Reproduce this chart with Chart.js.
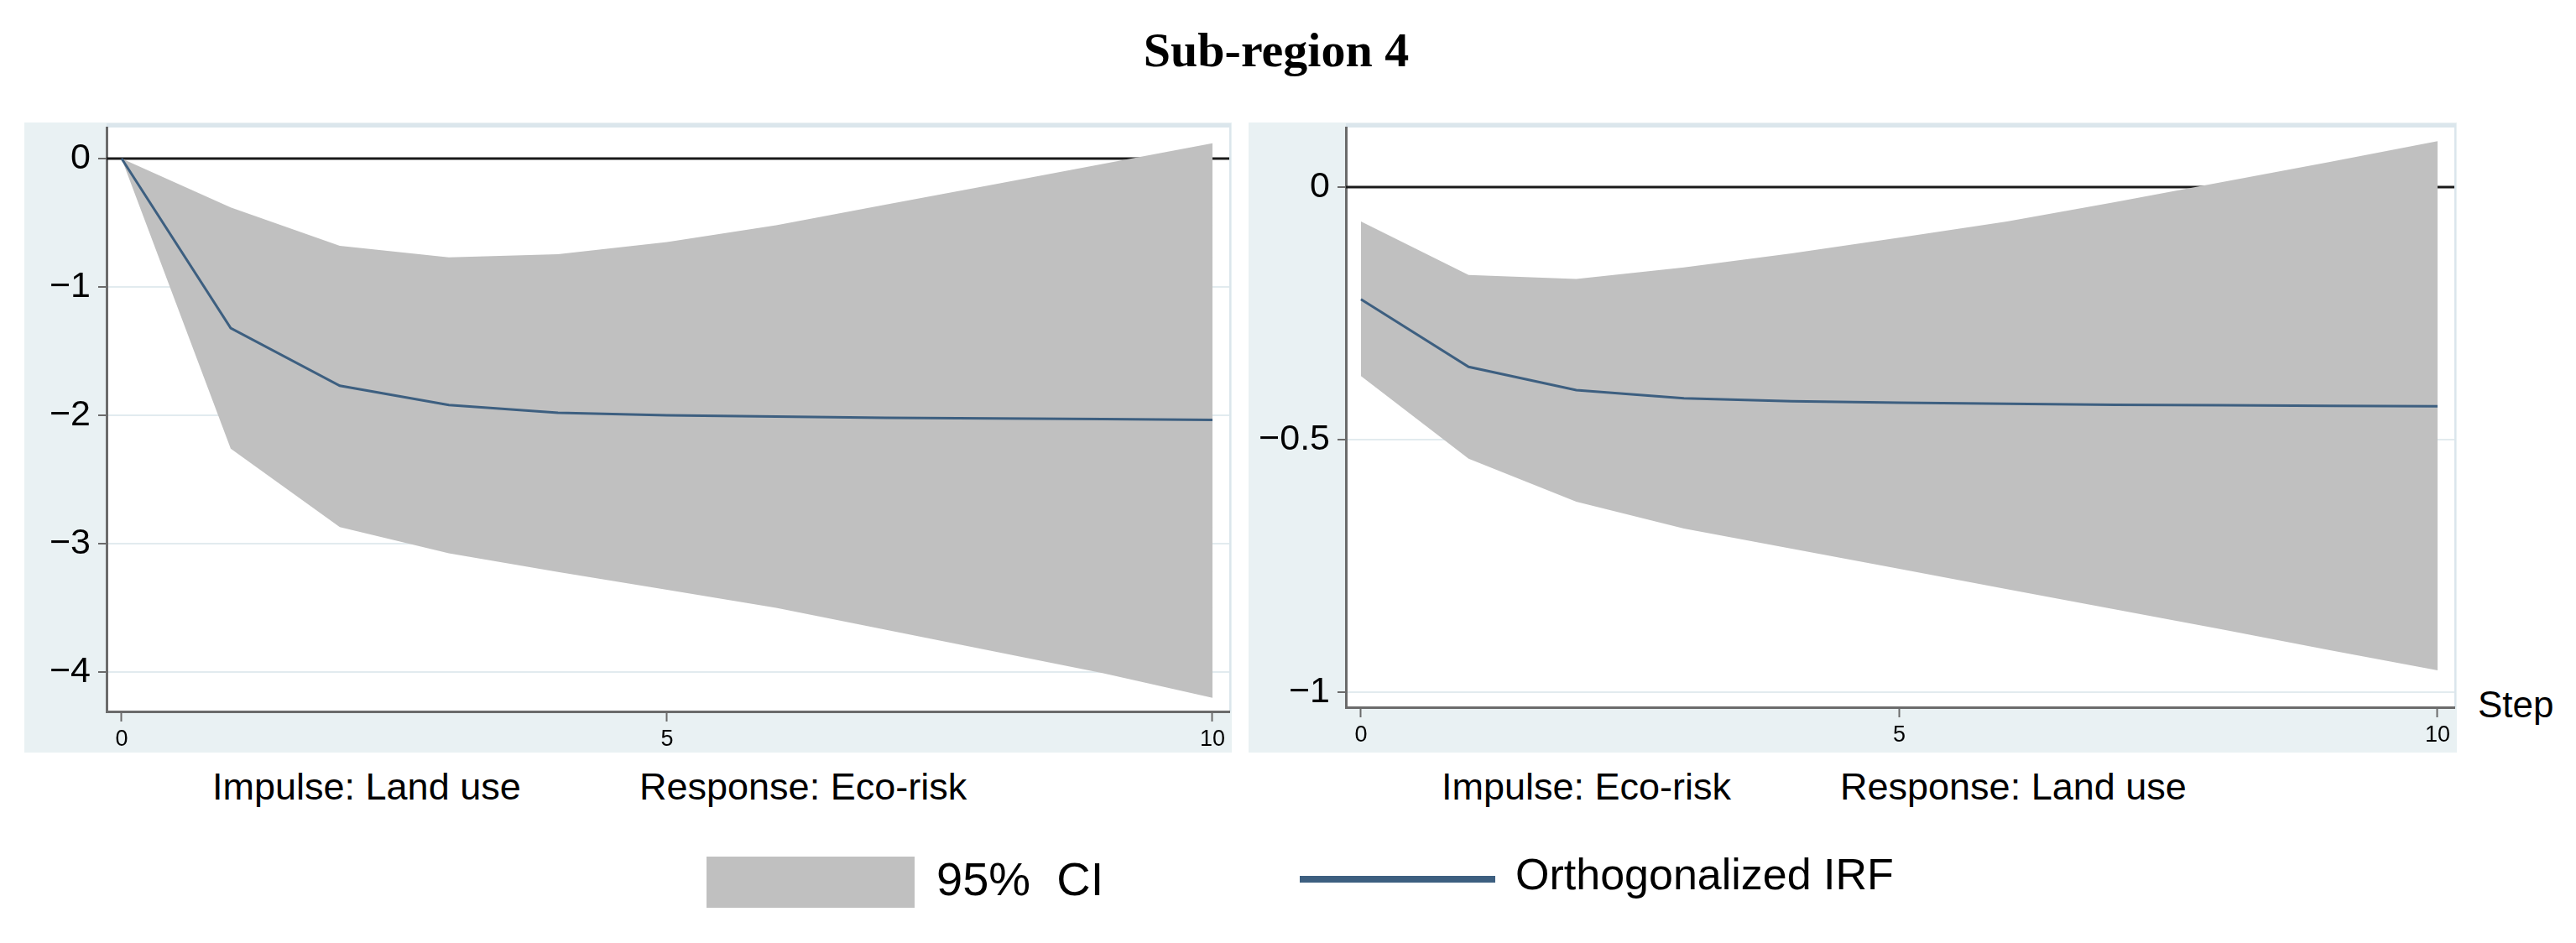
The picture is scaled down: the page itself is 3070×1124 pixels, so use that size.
<!DOCTYPE html>
<html>
<head>
<meta charset="utf-8">
<title>Sub-region 4</title>
<script src="https://cdn.jsdelivr.net/npm/chart.js@4.4.0/dist/chart.umd.min.js"></script>
<style>
  html, body { margin: 0; padding: 0; background: #fff; }
  body {
    width: 3070px; height: 1124px; position: relative; overflow: hidden;
    font-family: 'Liberation Sans', Arial, sans-serif; color: #000;
  }
  .txt { position: absolute; line-height: 1; white-space: pre; }
  #title {
    left: 0; width: 3042px; top: 26px; text-align: center;
    font: bold 58px 'Liberation Serif', 'Times New Roman', serif;
  }
  .sub { font-size: 45px; top: 915px; }
  .panel { position: absolute; top: 146px; height: 751px; }
  .panel canvas { display: block; }
  #panelLeft { left: 29px; width: 1439px; }
  #panelRight { left: 1488px; width: 1440px; }
  .swatch { position: absolute; }
</style>
</head>
<body>

<div id="title" class="txt">Sub-region 4</div>

<div id="panelLeft" class="panel"><canvas id="leftChart" width="1439" height="751"></canvas></div>
<div id="panelRight" class="panel"><canvas id="rightChart" width="1440" height="751"></canvas></div>

<div class="txt sub" style="left:253px">Impulse: Land use</div>
<div class="txt sub" style="left:762px">Response: Eco-risk</div>
<div class="txt sub" style="left:1718px">Impulse: Eco-risk</div>
<div class="txt sub" style="left:2193px">Response: Land use</div>
<div class="txt" style="left:2953px; top:818px; font-size:44px">Step</div>

<!-- legend -->
<div class="swatch" style="left:842px; top:1021px; width:248px; height:61px; background:#c0c0c0"></div>
<div class="txt" style="left:1116px; top:1020px; font-size:56px">95%  CI</div>
<div class="swatch" style="left:1549px; top:1044px; width:233px; height:8px; background:#3d5f80"></div>
<div class="txt" style="left:1806px; top:1016px; font-size:52px">Orthogonalized IRF</div>

<script>
// Steps on the x axis
const steps = [0, 1, 2, 3, 4, 5, 6, 7, 8, 9, 10];
const xTicks = [0, 5, 10];

// Impulse: Land use -> Response: Eco-risk
const leftIrf   = [0, -1.32, -1.77, -1.92, -1.98, -2.00, -2.01, -2.02, -2.025, -2.03, -2.035];
const leftUpper = [0, -0.38, -0.68, -0.77, -0.745, -0.65, -0.52, -0.36, -0.20, -0.04, 0.12];
const leftLower = [0, -2.26, -2.87, -3.075, -3.22, -3.36, -3.50, -3.67, -3.84, -4.01, -4.20];
const leftYTicks = [0, -1, -2, -3, -4];
const leftYRange = [-4.307, 0.242];
const leftXRange = [-0.138, 10.154];

// Impulse: Eco-risk -> Response: Land use
const rightIrf   = [-0.222, -0.356, -0.402, -0.418, -0.424, -0.427, -0.429, -0.431, -0.432, -0.433, -0.434];
const rightUpper = [-0.068, -0.174, -0.182, -0.159, -0.131, -0.100, -0.068, -0.030, 0.010, 0.050, 0.091];
const rightLower = [-0.374, -0.538, -0.623, -0.676, -0.716, -0.756, -0.796, -0.836, -0.876, -0.917, -0.957];
const rightYTicks = [0, -0.5, -1];
const rightYRange = [-1.030, 0.118];
const rightXRange = [-0.140, 10.156];

const PANEL_BG = '#e9f1f3';
const STRIP = '#dbe6ec';
const GRID = '#e2ebef';
const AXIS = '#6b6b6b';
const CI_GRAY = '#c0c0c0';
const IRF_BLUE = '#3d5f80';

function toPoints(values) {
  return steps.map((s, i) => ({ x: s, y: values[i] }));
}

function fmtY(v) {
  return v < 0 ? '\u2212' + Math.abs(v) : String(v);
}

// Panel background, white plot region and the zero line
const panelPlugin = {
  id: 'panelPlugin',
  beforeDraw(chart) {
    const { ctx, chartArea: a, width, height } = chart;
    ctx.save();
    ctx.fillStyle = PANEL_BG;
    ctx.fillRect(0, 0, width, height);
    ctx.fillStyle = '#fff';
    ctx.fillRect(a.left, a.top, a.right - a.left, a.bottom - a.top);
    ctx.fillStyle = STRIP;
    ctx.fillRect(a.left, 1, a.right - a.left + 2, a.top - 1);
    ctx.fillRect(a.right, a.top, 2, a.bottom - a.top);
    ctx.restore();
  },
  beforeDatasetsDraw(chart) {
    const { ctx, chartArea: a } = chart;
    const y = chart.scales.y.getPixelForValue(0);
    ctx.save();
    ctx.strokeStyle = '#1a1a1a';
    ctx.lineWidth = 3;
    ctx.beginPath();
    ctx.moveTo(a.left, y);
    ctx.lineTo(a.right, y);
    ctx.stroke();
    ctx.restore();
  }
};

// Build one IRF panel
function createPanel(canvasId, irf, upper, lower, yTicks, yRange, xRange, area) {
  const canvas = document.getElementById(canvasId);
  const W = canvas.width, H = canvas.height;

  return new Chart(canvas.getContext('2d'), {
    type: 'line',
    data: {
      datasets: [
        {
          label: 'Orthogonalized IRF',
          data: toPoints(irf),
          borderColor: IRF_BLUE,
          borderWidth: 3,
          pointRadius: 0,
          fill: false,
          tension: 0
        },
        {
          label: 'lower',
          data: toPoints(lower),
          borderWidth: 0,
          borderColor: 'rgba(0,0,0,0)',
          pointRadius: 0,
          fill: false
        },
        {
          label: '95% CI',
          data: toPoints(upper),
          borderWidth: 0,
          borderColor: 'rgba(0,0,0,0)',
          backgroundColor: CI_GRAY,
          pointRadius: 0,
          fill: '-1'
        }
      ]
    },
    options: {
      responsive: false,
      animation: false,
      devicePixelRatio: 1,
      layout: {
        padding: { top: area.top, right: W - area.right, bottom: 0, left: 0 }
      },
      plugins: {
        legend: { display: false },
        tooltip: { enabled: false }
      },
      scales: {
        x: {
          type: 'linear',
          min: xRange[0],
          max: xRange[1],
          afterBuildTicks: s => { s.ticks = xTicks.map(v => ({ value: v })); },
          afterFit: s => {
            s.height = H - area.bottom;
            s.paddingLeft = 0;
            s.paddingRight = 0;
          },
          ticks: {
            autoSkip: false,
            maxRotation: 0,
            padding: 5,
            color: '#000',
            font: { family: "'Liberation Sans', Arial, sans-serif", size: 27 }
          },
          grid: {
            drawOnChartArea: false,
            drawTicks: true,
            tickLength: 12,
            tickColor: AXIS,
            tickWidth: 2
          },
          border: { display: true, color: AXIS, width: 3 }
        },
        y: {
          type: 'linear',
          min: yRange[0],
          max: yRange[1],
          afterBuildTicks: s => { s.ticks = yTicks.map(v => ({ value: v })); },
          afterFit: s => {
            s.width = area.left;
            s.paddingTop = 0;
            s.paddingBottom = 0;
          },
          ticks: {
            autoSkip: false,
            padding: 9,
            color: '#000',
            font: { family: "'Liberation Sans', Arial, sans-serif", size: 43 },
            callback: v => fmtY(v)
          },
          grid: {
            color: GRID,
            lineWidth: 2,
            drawTicks: true,
            tickLength: 10,
            tickColor: AXIS,
            tickWidth: 2
          },
          border: { display: true, color: AXIS, width: 3 }
        }
      }
    },
    plugins: [panelPlugin]
  });
}

// Create charts
createPanel('leftChart', leftIrf, leftUpper, leftLower, leftYTicks, leftYRange, leftXRange,
  { left: 98, right: 1436, top: 6, bottom: 702 });
createPanel('rightChart', rightIrf, rightUpper, rightLower, rightYTicks, rightYRange, rightXRange,
  { left: 116, right: 1437, top: 6, bottom: 697 });
</script>
</body>
</html>
